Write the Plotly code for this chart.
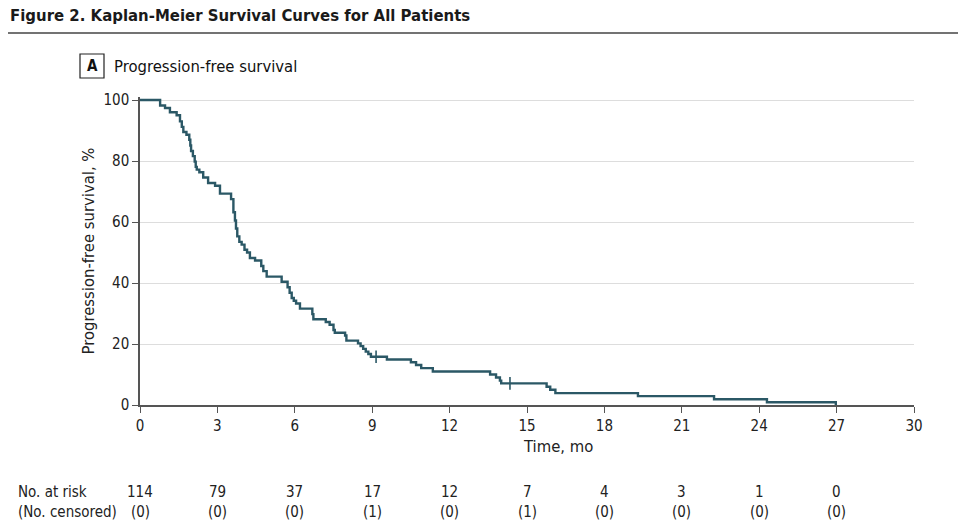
import plotly.graph_objects as go

# ---------------- data ----------------
pfs_time = [0, 0.78, 0.97, 1.16, 1.42, 1.55, 1.62, 1.68, 1.80, 1.91, 1.95, 1.98, 2.05, 2.12,
            2.16, 2.20, 2.30, 2.45, 2.64, 2.91, 3.10, 3.53, 3.62, 3.68, 3.72, 3.77, 3.85,
            3.94, 4.05, 4.15, 4.26, 4.46, 4.70, 4.78, 4.91, 5.49, 5.72, 5.80, 5.88, 5.96,
            6.05, 6.20, 6.68, 6.72, 7.20, 7.35, 7.50, 7.55, 7.95, 8.00, 8.45, 8.55, 8.65,
            8.75, 8.85, 8.95, 9.57, 10.50, 10.70, 10.90, 11.35, 13.57, 13.80, 13.95, 14.00,
            15.76, 15.90, 16.10, 19.30, 22.25, 24.30, 26.97]
pfs_surv = [100, 98.2, 97.4, 96.0, 95.0, 93.0, 91.2, 89.5, 88.6, 87.0, 85.1, 83.3, 81.6, 79.8,
            78.1, 77.2, 76.3, 74.6, 72.8, 71.9, 69.3, 67.5, 63.2, 60.5, 57.9, 55.3, 53.5,
            52.6, 50.9, 50.0, 48.2, 47.4, 45.6, 43.9, 42.1, 40.4, 38.6, 36.8, 35.1, 34.2,
            33.3, 31.6, 29.8, 28.1, 27.2, 26.3, 24.6, 23.7, 22.8, 21.1, 20.2, 19.3, 18.4,
            17.5, 16.7, 15.8, 14.9, 14.0, 13.1, 12.1, 11.0, 10.0, 9.0, 8.0, 7.1,
            6.0, 5.0, 3.9, 2.9, 1.9, 0.9, 0.0]
censor_time = [9.15, 14.34]
censor_surv = [15.8, 7.1]

risk_times = [0, 3, 6, 9, 12, 15, 18, 21, 24, 27]
at_risk = [114, 79, 37, 17, 12, 7, 4, 3, 1, 0]
censored = [0, 0, 0, 1, 0, 1, 0, 0, 0, 0]

x_ticks = [0, 3, 6, 9, 12, 15, 18, 21, 24, 27, 30]
y_ticks = [0, 20, 40, 60, 80, 100]

# ---------------- layout helpers ----------------
W, H = 966, 531
L, R, T, B = 140, 914, 97, 405
def px(x):
    return (x - L) / (R - L)
def py(y):
    return (B - y) / (B - T)

FONT = "Liberation Sans Narrow, DejaVu Sans Condensed, Roboto, sans-serif"
LINE = "#2b5866"
TXT = "#222222"

fig = go.Figure()
fig.add_trace(go.Scatter(x=pfs_time, y=pfs_surv, mode="lines",
                         line=dict(color=LINE, width=2.4, shape="hv"),
                         hoverinfo="skip", showlegend=False))
fig.add_trace(go.Scatter(x=censor_time, y=censor_surv, mode="markers",
                         marker=dict(symbol="line-ns", size=9,
                                     line=dict(color=LINE, width=1.6)),
                         hoverinfo="skip", showlegend=False))

fig.update_layout(
    width=W, height=H,
    margin=dict(l=L, r=W - R, t=T, b=H - B),
    paper_bgcolor="white", plot_bgcolor="white",
    font=dict(family=FONT, color=TXT, size=15),
    xaxis=dict(range=[0, 30], tickvals=x_ticks, ticks="outside", ticklen=6,
               tickcolor="#555", showline=True, linecolor="#555", linewidth=1.5,
               showgrid=False, zeroline=False, tickfont=dict(size=15, color=TXT)),
    yaxis=dict(range=[0, 101], tickvals=y_ticks, ticks="outside", ticklen=6,
               tickcolor="#555", showline=True, linecolor="#555", linewidth=1.5,
               showgrid=True, gridcolor="#dddddd", gridwidth=1, zeroline=False,
               tickfont=dict(size=15, color=TXT),
               title=dict(text="Progression-free survival, %",
                          font=dict(size=16.5, color=TXT), standoff=5)),
)

annotations = []
shapes = []
# title
annotations.append(dict(text="<b>Figure 2. Kaplan-Meier Survival Curves for All Patients</b>",
                        xref="paper", yref="paper", x=px(8), y=py(15),
                        xanchor="left", yanchor="middle", showarrow=False,
                        font=dict(size=16.6, color="#1a1a1a", family=FONT)))
shapes.append(dict(type="line", xref="paper", yref="paper",
                   x0=px(8), x1=px(958), y0=py(33), y1=py(33),
                   line=dict(color="#444", width=1.5)))
# panel label
shapes.append(dict(type="rect", xref="paper", yref="paper",
                   x0=px(80), x1=px(104), y0=py(78), y1=py(54),
                   line=dict(color="#222", width=1.2)))
annotations.append(dict(text="<b>A</b>", xref="paper", yref="paper",
                        x=px(92), y=py(66), xanchor="center", yanchor="middle",
                        showarrow=False, font=dict(size=15, color="#111", family=FONT)))
annotations.append(dict(text="Progression-free survival", xref="paper", yref="paper",
                        x=px(112), y=py(66), xanchor="left", yanchor="middle",
                        showarrow=False, font=dict(size=16.5, color="#111", family=FONT)))
# x-axis title
annotations.append(dict(text="Time, mo", xref="paper", yref="paper",
                        x=px(558), y=py(447), xanchor="center", yanchor="middle",
                        showarrow=False, font=dict(size=16.5, color=TXT)))
# risk table
annotations.append(dict(text="No. at risk", xref="paper", yref="paper",
                        x=px(16), y=py(492), xanchor="left", yanchor="middle",
                        showarrow=False, font=dict(size=15, color=TXT)))
annotations.append(dict(text="(No. censored)", xref="paper", yref="paper",
                        x=px(16), y=py(512), xanchor="left", yanchor="middle",
                        showarrow=False, font=dict(size=15, color=TXT)))
for t, n, c in zip(risk_times, at_risk, censored):
    annotations.append(dict(text=str(n), xref="x", yref="paper", x=t, y=py(492),
                            xanchor="center", yanchor="middle", showarrow=False,
                            font=dict(size=15, color=TXT)))
    annotations.append(dict(text=f"({c})", xref="x", yref="paper", x=t, y=py(512),
                            xanchor="center", yanchor="middle", showarrow=False,
                            font=dict(size=15, color=TXT)))

fig.update_layout(annotations=annotations, shapes=shapes)
fig.write_html("out.html")
